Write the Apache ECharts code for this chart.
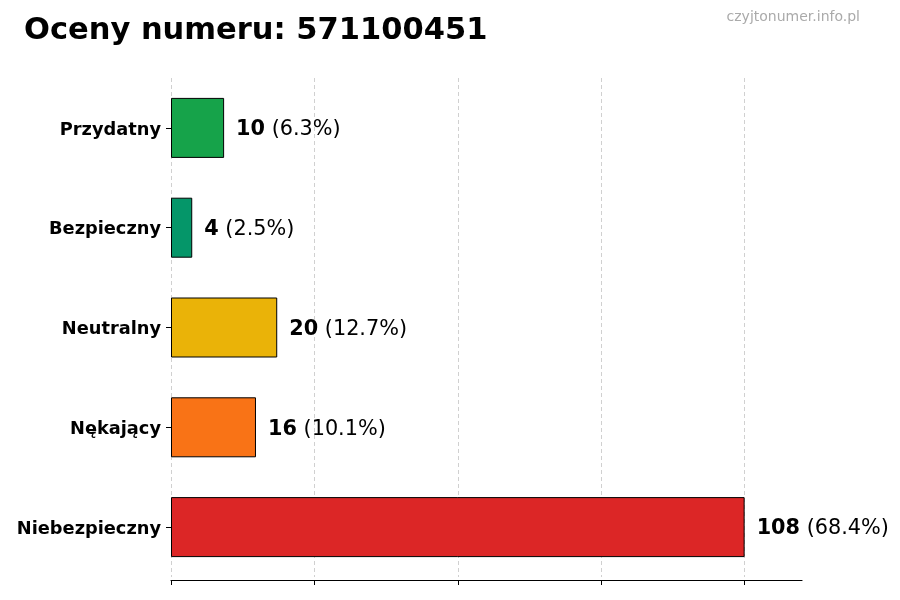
<!DOCTYPE html>
<html><head><meta charset="utf-8">
<script src="https://cdn.jsdelivr.net/npm/echarts@6/dist/echarts.min.js"></script>
<style>html,body{margin:0;padding:0;background:#fff}#c{width:900px;height:600px}</style>
</head><body><div id="c"></div>
<script>
const categories = ["Przydatny","Bezpieczny","Neutralny","Nękający","Niebezpieczny"];
const values = [10,4,20,16,108];
const percents = ["6.3%","2.5%","12.7%","10.1%","68.4%"];
const colors = ["#16a34a","#059669","#eab308","#f97316","#dc2626"];
const xTicks = [0,27,54,81,108];
const titleText = "Oceny numeru: 571100451";
const watermark = "czyjtonumer.info.pl";

const chart = echarts.init(document.getElementById('c'));
const font = "DejaVu Sans";
chart.setOption({
  animation:false,
  textStyle:{fontFamily:font},
  title:[
    {text:titleText,left:24,top:16,padding:0,textStyle:{fontFamily:font,fontSize:30.5,fontWeight:'bold',color:'#000'}},
    {text:watermark,right:40,top:10,padding:0,textStyle:{fontFamily:font,fontSize:14,fontWeight:'normal',color:'#aaaaaa'}}
  ],
  grid:{left:171,right:98,top:78,bottom:23,containLabel:false},
  xAxis:{type:'value',min:0,max:118.8,interval:27,offset:3,
    axisLine:{show:true,lineStyle:{color:'#000',width:1.2}},
    axisTick:{show:true,length:5,customValues:xTicks,lineStyle:{color:'#000'}},
    axisLabel:{show:false,customValues:xTicks},
    splitLine:{show:true,lineStyle:{type:[4,3],color:'#d0d0d0',width:1}}
  },
  yAxis:{type:'category',data:categories,inverse:true,
    axisLine:{show:false},
    axisTick:{show:true,alignWithLabel:true,length:5,lineStyle:{color:'#000'}},
    axisLabel:{margin:10,formatter:v=>'{a|'+v+'}',
      rich:{a:{fontFamily:font,fontSize:17.8,fontWeight:'bold',color:'#000',padding:[4,0,0,0]}}}
  },
  series:[{type:'bar',barWidth:60,
    data:values.map((v,i)=>({value:v,itemStyle:{color:colors[i],borderColor:'#000',borderWidth:1}})),
    label:{show:true,position:'right',distance:12,padding:[4,0,0,0],
      formatter:p=>'{b|'+values[p.dataIndex]+'}{n| ('+percents[p.dataIndex]+')}',
      rich:{b:{fontFamily:font,fontSize:20.8,fontWeight:'bold',color:'#000'},n:{fontFamily:font,fontSize:20.8,color:'#000'}}
    }
  }]
});
</script></body></html>
